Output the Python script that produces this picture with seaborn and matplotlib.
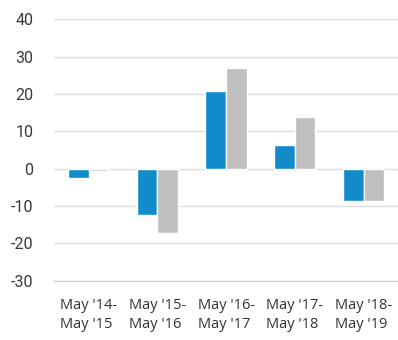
import matplotlib
matplotlib.use("Agg")
import matplotlib.pyplot as plt
import seaborn as sns
import pandas as pd

periods = ["May '14-\nMay '15", "May '15-\nMay '16", "May '16-\nMay '17",
           "May '17-\nMay '18", "May '18-\nMay '19"]
series_1 = [-2.4, -12.5, 20.8, 6.3, -8.6]
series_2 = [-0.6, -17.2, 27.0, 13.9, -8.6]
y_ticks = [-30, -20, -10, 0, 10, 20, 30, 40]

df = pd.DataFrame({
    "period": periods * 2,
    "value": series_1 + series_2,
    "series": ["Series 1"] * len(periods) + ["Series 2"] * len(periods),
})

sns.set_theme(style="white")
plt.rcParams["font.family"] = ["Open Sans", "DejaVu Sans"]

fig = plt.figure(figsize=(3.98, 3.40), dpi=100)
ax = fig.add_axes([0.136, 0.174, 0.864, 0.769])

sns.barplot(data=df, x="period", y="value", hue="series",
            palette=["#118bc9", "#bfbfbf"], saturation=1, width=0.6,
            edgecolor="white", linewidth=1.0, legend=False, ax=ax)

ax.set_ylim(-30, 40)
ax.set_yticks(y_ticks)
ax.set_yticklabels([str(t) for t in y_ticks], fontsize=11.5, color="#3a3a3a",
                   family=["Roboto", "DejaVu Sans"])
ax.yaxis.grid(True, color="#dcdcdc", linewidth=1.0)
ax.set_axisbelow(True)

for lbl in ax.get_xticklabels():
    lbl.set_multialignment("left")
    lbl.set_fontsize(10.5)
    lbl.set_color("#333333")
    lbl.set_linespacing(1.45)

ax.set_xlabel("")
ax.set_ylabel("")
for side in ["top", "right", "left"]:
    ax.spines[side].set_visible(False)
ax.spines["bottom"].set_color("#c6d5e6")
ax.spines["bottom"].set_linewidth(1.0)
ax.tick_params(axis="both", length=0)
ax.tick_params(axis="y", pad=15)
ax.tick_params(axis="x", pad=12)
ax.set_xlim(-0.5, 4.5)

fig.savefig("out.png", dpi=100)
